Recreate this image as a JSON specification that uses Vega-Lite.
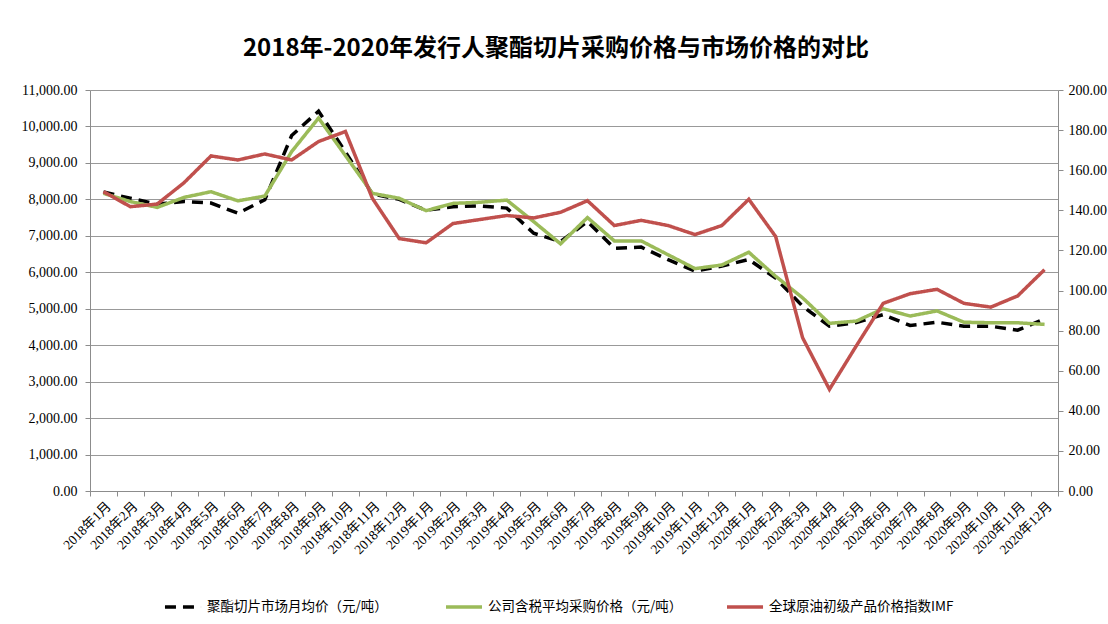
{
  "$schema": "https://vega.github.io/schema/vega-lite/v6.json",
  "autosize": {"type": "none"},
  "width": 968,
  "height": 401,
  "padding": {"top": 90, "left": 90, "right": 50, "bottom": 133},
  "background": "white",
  "title": {
    "text": "2018年-2020年发行人聚酯切片采购价格与市场价格的对比",
    "font": "Noto Sans CJK SC",
    "fontSize": 24,
    "fontWeight": "bold",
    "color": "#000000",
    "anchor": "middle",
    "offset": 22,
    "dx": -18
  },
  "config": {
    "view": {"stroke": null},
    "axis": {
      "labelFont": "'Liberation Serif', 'Noto Sans CJK SC', serif",
      "labelFontSize": 13,
      "labelColor": "#000000",
      "domainColor": "#8c8c8c",
      "tickColor": "#8c8c8c",
      "gridColor": "#999999",
      "title": null
    }
  },
  "data": {
    "values": [
      {"m": "2018年1月", "s": "聚酯切片市场月均价（元/吨）", "v": 8200},
      {"m": "2018年2月", "s": "聚酯切片市场月均价（元/吨）", "v": 8030},
      {"m": "2018年3月", "s": "聚酯切片市场月均价（元/吨）", "v": 7870},
      {"m": "2018年4月", "s": "聚酯切片市场月均价（元/吨）", "v": 7940},
      {"m": "2018年5月", "s": "聚酯切片市场月均价（元/吨）", "v": 7900},
      {"m": "2018年6月", "s": "聚酯切片市场月均价（元/吨）", "v": 7620},
      {"m": "2018年7月", "s": "聚酯切片市场月均价（元/吨）", "v": 7990},
      {"m": "2018年8月", "s": "聚酯切片市场月均价（元/吨）", "v": 9750},
      {"m": "2018年9月", "s": "聚酯切片市场月均价（元/吨）", "v": 10420},
      {"m": "2018年10月", "s": "聚酯切片市场月均价（元/吨）", "v": 9300},
      {"m": "2018年11月", "s": "聚酯切片市场月均价（元/吨）", "v": 8150},
      {"m": "2018年12月", "s": "聚酯切片市场月均价（元/吨）", "v": 8000},
      {"m": "2019年1月", "s": "聚酯切片市场月均价（元/吨）", "v": 7700},
      {"m": "2019年2月", "s": "聚酯切片市场月均价（元/吨）", "v": 7800},
      {"m": "2019年3月", "s": "聚酯切片市场月均价（元/吨）", "v": 7820},
      {"m": "2019年4月", "s": "聚酯切片市场月均价（元/吨）", "v": 7760},
      {"m": "2019年5月", "s": "聚酯切片市场月均价（元/吨）", "v": 7070},
      {"m": "2019年6月", "s": "聚酯切片市场月均价（元/吨）", "v": 6840},
      {"m": "2019年7月", "s": "聚酯切片市场月均价（元/吨）", "v": 7390},
      {"m": "2019年8月", "s": "聚酯切片市场月均价（元/吨）", "v": 6660},
      {"m": "2019年9月", "s": "聚酯切片市场月均价（元/吨）", "v": 6690},
      {"m": "2019年10月", "s": "聚酯切片市场月均价（元/吨）", "v": 6345},
      {"m": "2019年11月", "s": "聚酯切片市场月均价（元/吨）", "v": 6030},
      {"m": "2019年12月", "s": "聚酯切片市场月均价（元/吨）", "v": 6170},
      {"m": "2020年1月", "s": "聚酯切片市场月均价（元/吨）", "v": 6350},
      {"m": "2020年2月", "s": "聚酯切片市场月均价（元/吨）", "v": 5840},
      {"m": "2020年3月", "s": "聚酯切片市场月均价（元/吨）", "v": 5070},
      {"m": "2020年4月", "s": "聚酯切片市场月均价（元/吨）", "v": 4520},
      {"m": "2020年5月", "s": "聚酯切片市场月均价（元/吨）", "v": 4620},
      {"m": "2020年6月", "s": "聚酯切片市场月均价（元/吨）", "v": 4840},
      {"m": "2020年7月", "s": "聚酯切片市场月均价（元/吨）", "v": 4540},
      {"m": "2020年8月", "s": "聚酯切片市场月均价（元/吨）", "v": 4630},
      {"m": "2020年9月", "s": "聚酯切片市场月均价（元/吨）", "v": 4520},
      {"m": "2020年10月", "s": "聚酯切片市场月均价（元/吨）", "v": 4520},
      {"m": "2020年11月", "s": "聚酯切片市场月均价（元/吨）", "v": 4410},
      {"m": "2020年12月", "s": "聚酯切片市场月均价（元/吨）", "v": 4720},
      {"m": "2018年1月", "s": "公司含税平均采购价格（元/吨）", "v": 8165},
      {"m": "2018年2月", "s": "公司含税平均采购价格（元/吨）", "v": 7940},
      {"m": "2018年3月", "s": "公司含税平均采购价格（元/吨）", "v": 7780},
      {"m": "2018年4月", "s": "公司含税平均采购价格（元/吨）", "v": 8055},
      {"m": "2018年5月", "s": "公司含税平均采购价格（元/吨）", "v": 8210},
      {"m": "2018年6月", "s": "公司含税平均采购价格（元/吨）", "v": 7960},
      {"m": "2018年7月", "s": "公司含税平均采购价格（元/吨）", "v": 8090},
      {"m": "2018年8月", "s": "公司含税平均采购价格（元/吨）", "v": 9310},
      {"m": "2018年9月", "s": "公司含税平均采购价格（元/吨）", "v": 10230},
      {"m": "2018年10月", "s": "公司含税平均采购价格（元/吨）", "v": 9200},
      {"m": "2018年11月", "s": "公司含税平均采购价格（元/吨）", "v": 8165},
      {"m": "2018年12月", "s": "公司含税平均采购价格（元/吨）", "v": 8030},
      {"m": "2019年1月", "s": "公司含税平均采购价格（元/吨）", "v": 7690},
      {"m": "2019年2月", "s": "公司含税平均采购价格（元/吨）", "v": 7890},
      {"m": "2019年3月", "s": "公司含税平均采购价格（元/吨）", "v": 7920},
      {"m": "2019年4月", "s": "公司含税平均采购价格（元/吨）", "v": 7980},
      {"m": "2019年5月", "s": "公司含税平均采购价格（元/吨）", "v": 7390},
      {"m": "2019年6月", "s": "公司含税平均采购价格（元/吨）", "v": 6780},
      {"m": "2019年7月", "s": "公司含税平均采购价格（元/吨）", "v": 7500},
      {"m": "2019年8月", "s": "公司含税平均采购价格（元/吨）", "v": 6860},
      {"m": "2019年9月", "s": "公司含税平均采购价格（元/吨）", "v": 6860},
      {"m": "2019年10月", "s": "公司含税平均采购价格（元/吨）", "v": 6480},
      {"m": "2019年11月", "s": "公司含税平均采购价格（元/吨）", "v": 6100},
      {"m": "2019年12月", "s": "公司含税平均采购价格（元/吨）", "v": 6200},
      {"m": "2020年1月", "s": "公司含税平均采购价格（元/吨）", "v": 6550},
      {"m": "2020年2月", "s": "公司含税平均采购价格（元/吨）", "v": 5890},
      {"m": "2020年3月", "s": "公司含税平均采购价格（元/吨）", "v": 5300},
      {"m": "2020年4月", "s": "公司含税平均采购价格（元/吨）", "v": 4600},
      {"m": "2020年5月", "s": "公司含税平均采购价格（元/吨）", "v": 4660},
      {"m": "2020年6月", "s": "公司含税平均采购价格（元/吨）", "v": 5000},
      {"m": "2020年7月", "s": "公司含税平均采购价格（元/吨）", "v": 4800},
      {"m": "2020年8月", "s": "公司含税平均采购价格（元/吨）", "v": 4940},
      {"m": "2020年9月", "s": "公司含税平均采购价格（元/吨）", "v": 4630},
      {"m": "2020年10月", "s": "公司含税平均采购价格（元/吨）", "v": 4615},
      {"m": "2020年11月", "s": "公司含税平均采购价格（元/吨）", "v": 4615},
      {"m": "2020年12月", "s": "公司含税平均采购价格（元/吨）", "v": 4570},
      {"m": "2018年1月", "s": "全球原油初级产品价格指数IMF", "v": 149.3},
      {"m": "2018年2月", "s": "全球原油初级产品价格指数IMF", "v": 141.8},
      {"m": "2018年3月", "s": "全球原油初级产品价格指数IMF", "v": 143.1},
      {"m": "2018年4月", "s": "全球原油初级产品价格指数IMF", "v": 153.8},
      {"m": "2018年5月", "s": "全球原油初级产品价格指数IMF", "v": 167.1},
      {"m": "2018年6月", "s": "全球原油初级产品价格指数IMF", "v": 165.1},
      {"m": "2018年7月", "s": "全球原油初级产品价格指数IMF", "v": 168.1},
      {"m": "2018年8月", "s": "全球原油初级产品价格指数IMF", "v": 165.1},
      {"m": "2018年9月", "s": "全球原油初级产品价格指数IMF", "v": 174.3},
      {"m": "2018年10月", "s": "全球原油初级产品价格指数IMF", "v": 179.3},
      {"m": "2018年11月", "s": "全球原油初级产品价格指数IMF", "v": 146.0},
      {"m": "2018年12月", "s": "全球原油初级产品价格指数IMF", "v": 125.9},
      {"m": "2019年1月", "s": "全球原油初级产品价格指数IMF", "v": 123.8},
      {"m": "2019年2月", "s": "全球原油初级产品价格指数IMF", "v": 133.4},
      {"m": "2019年3月", "s": "全球原油初级产品价格指数IMF", "v": 135.4},
      {"m": "2019年4月", "s": "全球原油初级产品价格指数IMF", "v": 137.4},
      {"m": "2019年5月", "s": "全球原油初级产品价格指数IMF", "v": 136.2},
      {"m": "2019年6月", "s": "全球原油初级产品价格指数IMF", "v": 139.0},
      {"m": "2019年7月", "s": "全球原油初级产品价格指数IMF", "v": 144.8},
      {"m": "2019年8月", "s": "全球原油初级产品价格指数IMF", "v": 132.4},
      {"m": "2019年9月", "s": "全球原油初级产品价格指数IMF", "v": 135.0},
      {"m": "2019年10月", "s": "全球原油初级产品价格指数IMF", "v": 132.4},
      {"m": "2019年11月", "s": "全球原油初级产品价格指数IMF", "v": 127.9},
      {"m": "2019年12月", "s": "全球原油初级产品价格指数IMF", "v": 132.4},
      {"m": "2020年1月", "s": "全球原油初级产品价格指数IMF", "v": 145.5},
      {"m": "2020年2月", "s": "全球原油初级产品价格指数IMF", "v": 126.9},
      {"m": "2020年3月", "s": "全球原油初级产品价格指数IMF", "v": 76.5},
      {"m": "2020年4月", "s": "全球原油初级产品价格指数IMF", "v": 50.7},
      {"m": "2020年5月", "s": "全球原油初级产品价格指数IMF", "v": 72.4},
      {"m": "2020年6月", "s": "全球原油初级产品价格指数IMF", "v": 93.6},
      {"m": "2020年7月", "s": "全球原油初级产品价格指数IMF", "v": 98.4},
      {"m": "2020年8月", "s": "全球原油初级产品价格指数IMF", "v": 100.6},
      {"m": "2020年9月", "s": "全球原油初级产品价格指数IMF", "v": 93.6},
      {"m": "2020年10月", "s": "全球原油初级产品价格指数IMF", "v": 91.7},
      {"m": "2020年11月", "s": "全球原油初级产品价格指数IMF", "v": 97.3},
      {"m": "2020年12月", "s": "全球原油初级产品价格指数IMF", "v": 110.4}
    ]
  },
  "encoding": {
    "x": {
      "field": "m",
      "type": "ordinal",
      "sort": null,
      "bandPosition": 0.5,
      "scale": {"type": "band", "paddingInner": 0, "paddingOuter": 0},
      "axis": {"labelAngle": -45, "tickBand": "extent", "tickSize": 5, "labelPadding": 3, "grid": false, "labelFontSize": 13.5}
    },
    "color": {
      "field": "s",
      "type": "nominal",
      "scale": {
        "domain": ["聚酯切片市场月均价（元/吨）", "公司含税平均采购价格（元/吨）", "全球原油初级产品价格指数IMF"],
        "range": ["#000000", "#9BBB59", "#C0504D"]
      },
      "legend": {
        "orient": "none",
        "legendX": 73,
        "legendY": 497,
        "direction": "horizontal",
        "title": null,
        "symbolType": "stroke",
        "symbolSize": 1300,
        "symbolStrokeWidth": 3.5,
        "labelFont": "Noto Sans CJK SC",
        "labelFontSize": 13.5,
        "labelColor": "#000000",
        "labelLimit": 400,
        "columns": 3,
        "gridAlign": "all",
        "columnPadding": 36
      }
    },
    "strokeDash": {
      "field": "s",
      "type": "nominal",
      "scale": {
        "domain": ["聚酯切片市场月均价（元/吨）", "公司含税平均采购价格（元/吨）", "全球原油初级产品价格指数IMF"],
        "range": [[11, 7], [1, 0], [1, 0]]
      },
      "legend": null
    }
  },
  "layer": [
    {
      "transform": [{"filter": "datum.s !== '全球原油初级产品价格指数IMF'"}],
      "mark": {"type": "line", "strokeWidth": 3.5},
      "encoding": {
        "y": {
          "field": "v",
          "type": "quantitative",
          "scale": {"domain": [0, 11000], "nice": false},
          "axis": {
            "orient": "left",
            "values": [0, 1000, 2000, 3000, 4000, 5000, 6000, 7000, 8000, 9000, 10000, 11000],
            "format": ",.2f",
            "grid": true,
            "tickSize": 5,
            "labelPadding": 8,
            "labelFontSize": 14
          }
        }
      }
    },
    {
      "transform": [{"filter": "datum.s === '全球原油初级产品价格指数IMF'"}],
      "mark": {"type": "line", "strokeWidth": 3.5},
      "encoding": {
        "y": {
          "field": "v",
          "type": "quantitative",
          "scale": {"domain": [0, 200], "nice": false},
          "axis": {
            "orient": "right",
            "values": [0, 20, 40, 60, 80, 100, 120, 140, 160, 180, 200],
            "format": ".2f",
            "grid": false,
            "tickSize": 5,
            "labelPadding": 5,
            "labelFontSize": 14
          }
        }
      }
    }
  ],
  "resolve": {"scale": {"y": "independent"}}
}
